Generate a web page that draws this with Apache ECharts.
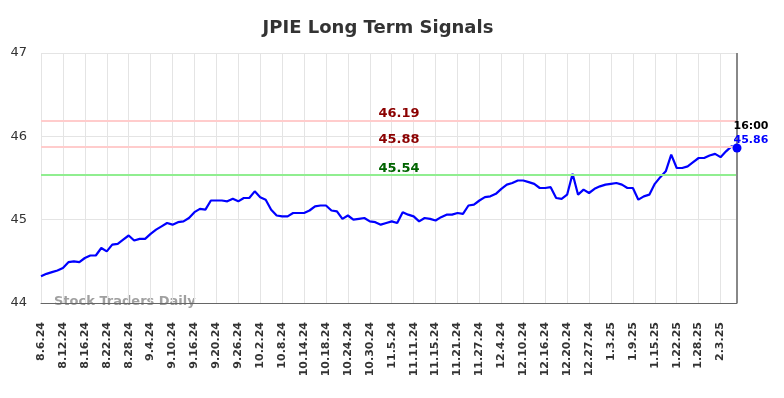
<!DOCTYPE html>
<html>
<head>
<meta charset="utf-8">
<script src="https://cdn.jsdelivr.net/npm/echarts@6/dist/echarts.min.js"></script>
<style>html,body{margin:0;padding:0;background:#fff}#c{width:784px;height:398px}</style>
</head>
<body>
<div id="c"></div>
<script>
const dates = [
"8.6.24","8.7.24","8.8.24","8.9.24","8.12.24","8.13.24","8.14.24","8.15.24","8.16.24","8.19.24","8.20.24","8.21.24","8.22.24","8.23.24","8.26.24","8.27.24","8.28.24","8.29.24","8.30.24",
"9.3.24","9.4.24","9.5.24","9.6.24","9.9.24","9.10.24","9.11.24","9.12.24","9.13.24","9.16.24","9.17.24","9.18.24","9.19.24","9.20.24","9.23.24","9.24.24","9.25.24","9.26.24","9.27.24","9.30.24",
"10.1.24","10.2.24","10.3.24","10.4.24","10.7.24","10.8.24","10.9.24","10.10.24","10.11.24","10.14.24","10.15.24","10.16.24","10.17.24","10.18.24","10.21.24","10.22.24","10.23.24","10.24.24","10.25.24","10.28.24","10.29.24","10.30.24","10.31.24",
"11.1.24","11.4.24","11.5.24","11.6.24","11.7.24","11.8.24","11.11.24","11.12.24","11.13.24","11.14.24","11.15.24","11.18.24","11.19.24","11.20.24","11.21.24","11.22.24","11.25.24","11.26.24","11.27.24","11.29.24",
"12.2.24","12.3.24","12.4.24","12.5.24","12.6.24","12.9.24","12.10.24","12.11.24","12.12.24","12.13.24","12.16.24","12.17.24","12.18.24","12.19.24","12.20.24","12.23.24","12.24.24","12.26.24","12.27.24","12.30.24","12.31.24",
"1.2.25","1.3.25","1.6.25","1.7.25","1.8.25","1.9.25","1.10.25","1.13.25","1.14.25","1.15.25","1.16.25","1.17.25","1.21.25","1.22.25","1.23.25","1.24.25","1.27.25","1.28.25","1.29.25","1.30.25","1.31.25",
"2.3.25","2.4.25","2.5.25","2.6.25"
];
const prices = [
44.32,44.35,44.37,44.39,44.42,44.49,44.50,44.49,44.54,44.57,44.57,44.66,44.62,44.70,44.71,44.76,44.81,44.75,44.77,
44.77,44.83,44.88,44.92,44.96,44.94,44.97,44.98,45.02,45.09,45.13,45.12,45.23,45.23,45.23,45.22,45.25,45.22,45.26,45.26,
45.34,45.27,45.24,45.12,45.05,45.04,45.04,45.08,45.08,45.08,45.11,45.16,45.17,45.17,45.11,45.10,45.01,45.05,45.00,45.01,45.02,44.98,44.97,
44.94,44.96,44.98,44.96,45.09,45.06,45.04,44.98,45.02,45.01,44.99,45.03,45.06,45.06,45.08,45.07,45.17,45.18,45.23,45.27,
45.28,45.31,45.37,45.42,45.44,45.47,45.47,45.45,45.43,45.38,45.38,45.39,45.26,45.25,45.30,45.55,45.30,45.36,45.32,45.37,45.40,
45.42,45.43,45.44,45.42,45.38,45.38,45.24,45.28,45.30,45.43,45.51,45.58,45.78,45.62,45.62,45.64,45.69,45.74,45.74,45.77,45.79,
45.75,45.82,45.88,45.86
];
const signalLevels = [46.19, 45.88, 45.54];
const signalColors = ["#8b0000", "#8b0000", "#006400"];
const signalLineColors = ["#ffcccc", "#ffcccc", "#90ee90"];
const yTicks = [44, 45, 46, 47];
const lastTimeLabel = "16:00";
const titleText = "JPIE Long Term Signals";
const watermark = "Stock Traders Daily";

const lastIdx = prices.length - 1;
const chart = echarts.init(document.getElementById('c'), null, {renderer: 'canvas'});
const markLines = signalLevels.map((v, i) => ({
  yAxis: v,
  lineStyle: {color: signalLineColors[i], width: 2, type: 'solid'},
  label: {
    show: true, position: 'insideMiddleTop', formatter: v.toFixed(2),
    color: signalColors[i], fontWeight: 'bold', fontSize: 13,
    fontFamily: 'DejaVu Sans', distance: 4, offset: [10, 4]
  }
}));
markLines.push({
  xAxis: dates[lastIdx],
  lineStyle: {color: '#888', width: 2, type: 'solid'},
  label: {show: false}
});
chart.setOption({
  animation: false,
  title: {
    text: titleText, left: 373, top: 14, textAlign: 'center',
    textStyle: {fontFamily: 'DejaVu Sans', fontSize: 18, fontWeight: 'bold', color: '#333'}
  },
  grid: {left: 41, right: 47, top: 53, bottom: 95, containLabel: false},
  xAxis: {
    type: 'category', data: dates, boundaryGap: false,
    axisLine: {show: true, lineStyle: {color: '#666', width: 1}},
    axisTick: {show: false},
    axisLabel: {
      interval: 3, rotate: 90, margin: 19,
      fontFamily: 'DejaVu Sans', fontSize: 11, fontWeight: 'bold', color: '#333'
    },
    splitLine: {show: true, interval: 3, lineStyle: {color: '#e4e4e4', width: 1}}
  },
  yAxis: {
    type: 'value', min: yTicks[0], max: yTicks[yTicks.length - 1], interval: 1,
    axisLine: {show: false}, axisTick: {show: false},
    axisLabel: {fontFamily: 'DejaVu Sans', fontSize: 13, color: '#333', margin: 14},
    splitLine: {show: true, lineStyle: {color: '#e4e4e4', width: 1}}
  },
  graphic: [{
    type: 'text', left: 54, top: 295,
    style: {text: watermark, fill: '#a0a0a0', font: 'bold 13px "DejaVu Sans"'}
  }],
  series: [{
    type: 'line', data: prices, showSymbol: false, smooth: false,
    lineStyle: {color: '#0000ff', width: 2.2},
    itemStyle: {color: '#0000ff'},
    markLine: {symbol: ['none', 'none'], silent: true, data: markLines},
    markPoint: {
      symbol: 'circle', symbolSize: 9,
      itemStyle: {color: '#0000ff'},
      data: [{
        coord: [dates[lastIdx], prices[lastIdx]],
        label: {
          show: true, position: [1, -24], align: 'left', verticalAlign: 'top',
          formatter: '{t|' + lastTimeLabel + '}\n{v|' + prices[lastIdx].toFixed(2) + '}',
          rich: {
            t: {fontFamily: 'DejaVu Sans', fontSize: 11, fontWeight: 'bold', color: '#000', lineHeight: 14},
            v: {fontFamily: 'DejaVu Sans', fontSize: 11, fontWeight: 'bold', color: '#0000ff', lineHeight: 14}
          }
        }
      }]
    }
  }]
});
</script>
</body>
</html>
